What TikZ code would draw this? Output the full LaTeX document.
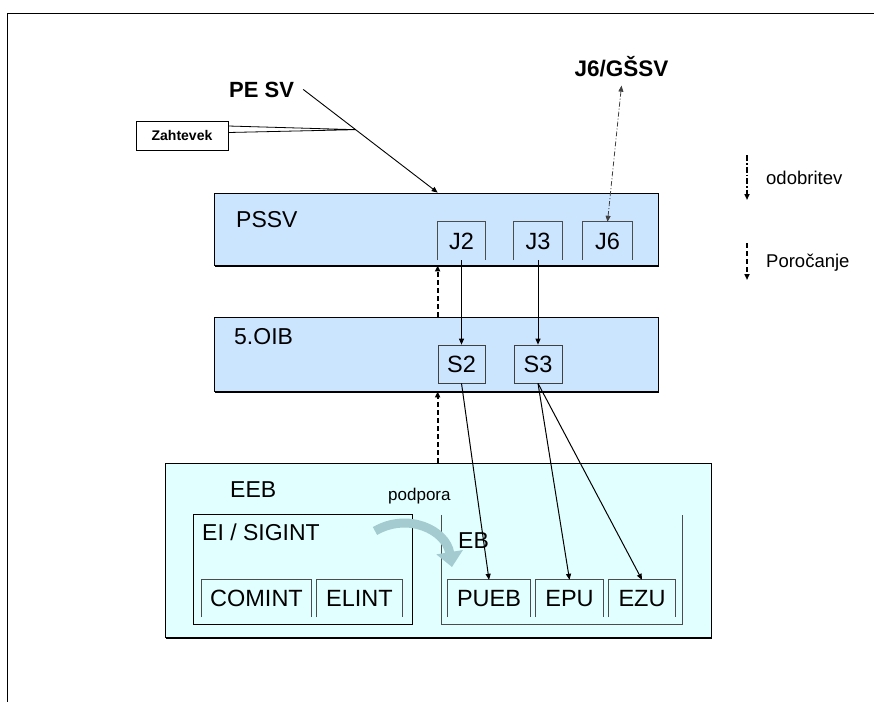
\documentclass[tikz,border=0pt]{standalone}
\usepackage{fontspec}
\setmainfont{Liberation Sans}
\usetikzlibrary{arrows.meta, positioning, shadows, calc}
\definecolor{bandblue}{RGB}{204,229,255}
\definecolor{bandcyan}{RGB}{226,255,255}
\definecolor{podporafill}{RGB}{163,203,208}
\newcommand\fsz[1]{\fontsize{#1}{#1}\selectfont}
\newcommand\openbox[1]{ % enota: zgoraj in ob straneh, brez spodnje crte
    \draw[unitline] (#1.south west) |- (#1.north east) -- (#1.south east);
}
\tikzset{
    band/.style={draw=black, line width=0.8pt, inner sep=0pt,
        drop shadow={shadow xshift=1.3pt, shadow yshift=-1.8pt, fill=black, opacity=1}},
    lbl/.style={inner sep=0pt, anchor=base west, font=\fsz{23}},
    unitbox/.style={inner sep=0pt, minimum height=38pt, font=\fsz{23.5}},
    unitline/.style={black!70, line width=0.7pt},
    order/.style={->, line width=1pt},
    report/.style={->, line width=1.8pt, dash pattern=on 5pt off 3pt},
    approve/.style={line width=1.8pt, dash pattern=on 6pt off 2pt on 1.5pt off 2pt},
}

\begin{document}
\begin{tikzpicture}[x=1pt, y=-1pt, >={Triangle[length=6pt, width=5pt]}]
    \useasboundingbox (0,0) rectangle (874,702);
    \draw[line width=0.9pt] (874,13) -- (7,13) -- (7,702);

    % ravni poveljevanja
    \node[band, fill=bandblue, minimum width=444pt, minimum height=72pt] (pssv) at (436,229) {};
    \node[band, fill=bandblue, minimum width=444pt, minimum height=74pt] (oib) at (436,354) {};
    \node[band, fill=bandcyan, minimum width=546pt, minimum height=174pt] (eeb) at (438,550) {};
    \node[lbl] (pssvlbl) at (236,227) {PSSV};
    \node[lbl] (oiblbl) at (234,344) {5.OIB};
    \node[lbl] (eeblbl) at (230,497) {EEB};

    % enote
    \node[unitbox, minimum width=47pt] (j2) at (461.5,241) {J2};
    \node[unitbox, minimum width=48pt] (j3) at (538,241) {J3};
    \node[unitbox, minimum width=49pt] (j6) at (607.5,241) {J6};
    \openbox{j2} \openbox{j3} \openbox{j6}
    \node[unitbox, draw=black!75, line width=0.7pt, minimum width=47pt] (s2) at (461.5,364) {S2};
    \node[unitbox, draw=black!75, line width=0.7pt, minimum width=48pt] (s3) at (538,364) {S3};

    \node[draw, line width=0.9pt, inner sep=0pt, minimum width=219pt, minimum height=110pt] (eisig) at (302.5,569) {};
    \node[lbl] (eisiglbl) at (202,540) {EI / SIGINT};
    \node[unitbox, minimum width=109pt, minimum height=37pt] (comint) at (256.5,598.5) {COMINT};
    \node[unitbox, minimum width=85pt, minimum height=37pt] (elint) at (359.5,598.5) {ELINT};
    \openbox{comint} \openbox{elint}

    \node[inner sep=0pt, minimum width=240pt, minimum height=109pt] (eb) at (562,569.5) {};
    \draw[unitline] (eb.north west) |- (eb.south east) -- (eb.north east);
    \node[lbl] (eblbl) at (458,548) {EB};
    \node[unitbox, minimum width=82pt, minimum height=37pt] (pueb) at (489,598.5) {PUEB};
    \node[unitbox, minimum width=67pt, minimum height=37pt] (epu) at (569.5,598.5) {EPU};
    \node[unitbox, minimum width=66pt, minimum height=37pt] (ezu) at (642,598.5) {EZU};
    \openbox{pueb} \openbox{epu} \openbox{ezu}

    % podpora
    \coordinate (podstart) at (375,531);
    \coordinate (podend) at (452,567);
    \draw[podporafill, line width=9pt, -{Triangle[length=15pt, width=26pt]}]
        (podstart) .. controls (408,512) and (446,530) .. (podend);
    \node[inner sep=0pt, anchor=base west, font=\fsz{17}] (podpora) at (388,500) {podpora};

    % ukazovanje in porocanje
    \draw[order] (j2.south) -- (s2.north);
    \draw[order] (j3.south) -- (s3.north);
    \draw[order] (s2.south) -- (pueb.north);
    \draw[order] (s3.south) -- (epu.north);
    \draw[order] (s3.south) -- (ezu.north);
    \draw[report] (oib.north -| s2.west) -- (pssv.south -| s2.west);
    \draw[report] (eeb.north -| s2.west) -- (oib.south -| s2.west);

    % zunanji
    \node[inner sep=0pt, anchor=base west, font=\fsz{22}\bfseries] (pesv) at (229,97) {PE SV};
    \draw[->, line width=0.9pt] ([xshift=9pt]pesv.east) -- (pssv.north -| s2.west);
    \node[draw, line width=0.8pt, inner sep=0pt, minimum width=92pt, minimum height=29pt, font=\fsz{14}\bfseries,
        drop shadow={shadow xshift=1pt, shadow yshift=-1pt, fill=black, opacity=1}, fill=white] (zahtevek) at (182,135.5) {Zahtevek};
    \coordinate (zahtip) at ($([xshift=9pt]pesv.east)!0.39!(pssv.north -| s2.west)$);
    \draw[line width=0.8pt] ([yshift=9.5pt]zahtevek.east) -- (zahtip) -- ([yshift=3pt]zahtevek.east);

    \node[inner sep=0pt, anchor=base, font=\fsz{22.5}\bfseries] (j6gssv) at (621.5,76) {J6/GŠSV};
    \draw[<->, line width=0.8pt, black!75, dash pattern=on 5pt off 2pt on 1pt off 2pt] (j6.north) -- ([yshift=-9pt]j6gssv.south);

    % legenda
    \coordinate (odotop) at (747,155);
    \coordinate (odobot) at (747,200);
    \draw[approve, ->] (odotop) -- (odobot);
    \node[inner sep=0pt, anchor=base west, font=\fsz{18.5}] (odolbl) at (766,184) {odobritev};
    \coordinate (portop) at (747,243);
    \coordinate (porbot) at (747,280);
    \draw[report] (portop) -- (porbot);
    \node[inner sep=0pt, anchor=base west, font=\fsz{18.5}] (porlbl) at (766,267) {Poročanje};
\end{tikzpicture}
\end{document}
